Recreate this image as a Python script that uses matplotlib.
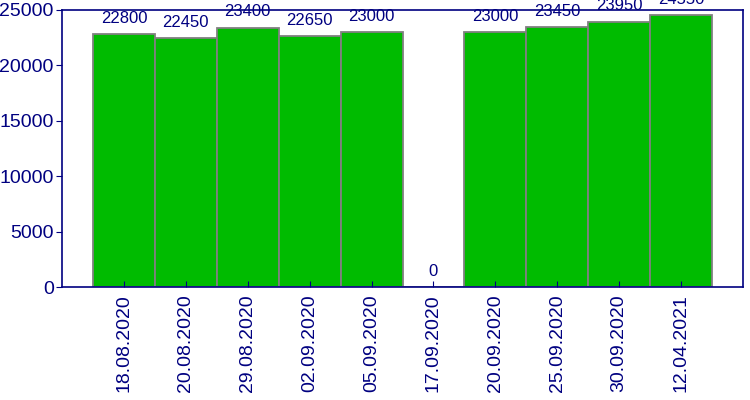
import matplotlib
matplotlib.use("Agg")
import matplotlib.pyplot as plt

categories = ["18.08.2020", "20.08.2020", "29.08.2020", "02.09.2020", "05.09.2020",
              "17.09.2020", "20.09.2020", "25.09.2020", "30.09.2020", "12.04.2021"]
values = [22800, 22450, 23400, 22650, 23000, 0, 23000, 23450, 23950, 24550]
yticks = [0, 5000, 10000, 15000, 20000, 25000]

navy = "#000080"
plt.rcParams['font.family'] = ['Liberation Sans', 'DejaVu Sans']

fig = plt.figure(figsize=(7.5, 4), dpi=100)
ax = fig.add_axes([62/750, 1 - 287/400, (743-62)/750, (287-10)/400])

x = list(range(len(categories)))
ax.bar(x, values, width=1.0, color="#00bb00", edgecolor="#808080", linewidth=1.3)
for xi, v in zip(x, values):
    ax.annotate(str(v), (xi, v), xytext=(0, 6), textcoords="offset points",
                ha="center", va="bottom", fontsize=12, color=navy)

ax.set_xlim(-1, 10)
ax.set_ylim(0, 25000)
ax.set_yticks(yticks)
ax.set_yticklabels([str(t) for t in yticks])
ax.set_xticks(x)
ax.set_xticklabels(categories, rotation=90)
ax.tick_params(axis="y", direction="out", length=4, colors=navy, labelsize=14, pad=2)
ax.tick_params(axis="x", direction="in", length=4, colors=navy, labelsize=14, pad=5)
for s in ax.spines.values():
    s.set_color(navy)
    s.set_linewidth(1.2)

fig.savefig("out.png", dpi=100)
